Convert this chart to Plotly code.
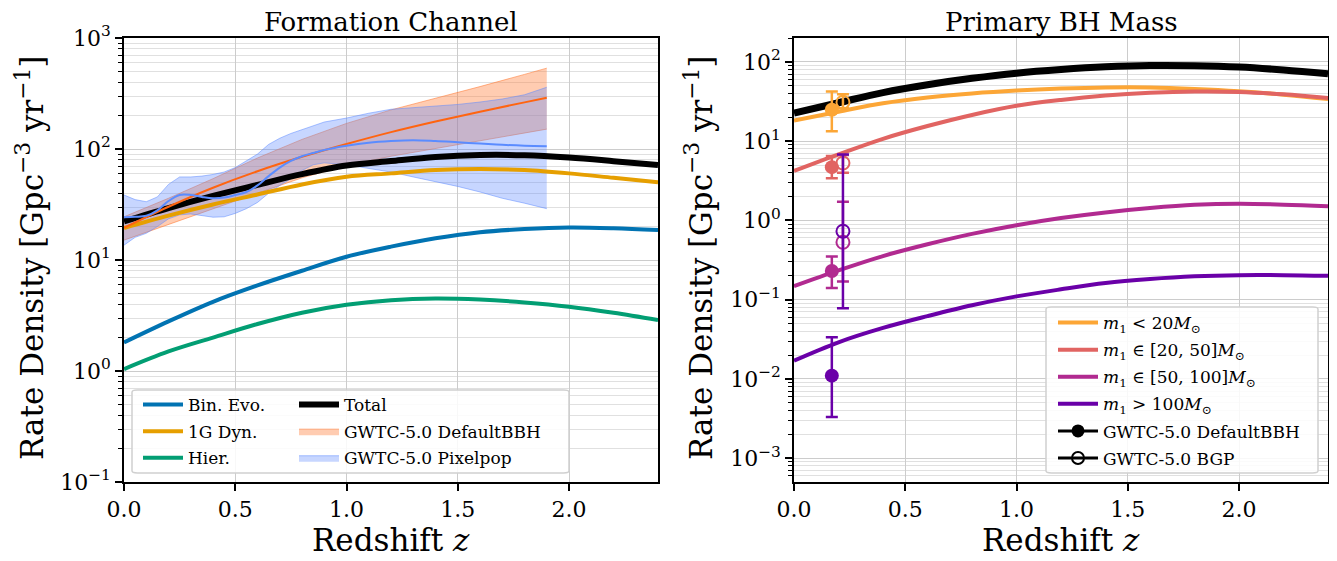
import plotly.graph_objects as go

# ---------------- data ----------------
# Left panel: formation channels
z_model = [0.0, 0.2, 0.4, 0.6, 0.8, 1.0, 1.2, 1.4, 1.6, 1.8, 2.0, 2.2, 2.4]
bin_evo = [1.81, 2.8, 4.2, 5.9, 8.0, 10.7, 13.2, 15.7, 17.8, 19.0, 19.6, 19.3, 18.6]
dyn_1g = [19.4, 25.1, 31.6, 38.9, 47.9, 56.2, 60.3, 64.6, 66.1, 64.6, 60.3, 55.0, 50.1]
hier = [1.04, 1.5, 2.0, 2.65, 3.35, 3.95, 4.35, 4.5, 4.4, 4.15, 3.8, 3.35, 2.88]
total_left = [22.3, 29.4, 37.8, 47.5, 59.3, 70.9, 77.9, 84.8, 88.3, 87.8, 83.7, 77.7, 71.6]

# GWTC-5.0 DefaultBBH rate vs z (median and 90% band)
z_default = [0.0, 0.2, 0.4, 0.6, 0.8, 1.0, 1.2, 1.4, 1.6, 1.8, 1.9]
default_med = [19.5, 30.2, 44.8, 63.1, 85.1, 111, 142, 177, 217, 263, 290]
default_up = [24.5, 36, 54, 83, 122, 170, 225, 285, 365, 470, 535]
default_lo = [15.1, 21, 29, 40, 55, 71, 86, 101, 118, 138, 151]

# GWTC-5.0 PixelPop rate vs z (median and band)
z_pixel = [0.0, 0.05, 0.1, 0.15, 0.2, 0.25, 0.3, 0.35, 0.4, 0.45, 0.5, 0.55, 0.6, 0.65,
           0.7, 0.75, 0.8, 0.85, 0.9, 1.0, 1.1, 1.2, 1.3, 1.4, 1.5, 1.6, 1.7, 1.8, 1.9]
pixel_med = [24.3, 24.5, 25, 28, 34, 38.5, 38.5, 37, 36, 36.5, 38.5, 41, 47, 57,
             68, 78, 86, 92, 98, 107, 114, 118, 120, 118, 115, 112, 109, 107, 106]
pixel_up = [38.5, 35, 33.5, 37, 48, 56, 56, 57, 59, 62, 68, 78, 90, 110,
            125, 138, 150, 162, 175, 190, 210, 228, 236, 241, 252, 265, 282, 308, 360]
pixel_lo = [13.6, 16, 17.4, 20, 23.5, 25.5, 26, 25, 24.3, 24.5, 26.3, 29, 33, 40,
            47, 54, 64, 72, 75, 72, 67, 62, 56, 51, 46, 41, 36, 32.5, 29]

# Right panel: primary BH mass bins
m_lt20 = [18.2, 23.5, 30, 35.5, 40, 43.5, 46, 47.5, 47.5, 45.5, 42.5, 38.5, 34]
m_20_50 = [4.2, 6.8, 10.7, 15.5, 21.4, 27.9, 33.1, 37.6, 40.7, 42.2, 41.7, 38.9, 34.9]
m_50_100 = [0.148, 0.234, 0.355, 0.5, 0.676, 0.87, 1.07, 1.26, 1.43, 1.57, 1.62, 1.58, 1.51]
m_gt100 = [0.017, 0.029, 0.044, 0.062, 0.085, 0.11, 0.135, 0.162, 0.182, 0.197, 0.204, 0.204, 0.2]
total_right = [22.6, 30.5, 41, 51.5, 62, 72, 80, 86.5, 90, 89.5, 86, 79, 70.6]

# Local-rate measurements per mass bin
bin_names = ["<20", "20-50", "50-100", ">100"]
z_point_default = 0.17
z_point_bgp = 0.22
pt_default_med = [24.9, 4.7, 0.23, 0.011]
pt_default_lo = [13.3, 3.4, 0.14, 0.0033]
pt_default_hi = [42.4, 6.5, 0.35, 0.0335]
pt_bgp_med = [31, 5.3, 0.53, 0.73]
pt_bgp_lo = [26, 4.0, 0.17, 0.078]
pt_bgp_hi = [39, 6.7, 1.72, 6.8]

mass_labels = [
    "<i>m</i><sub>1</sub> < 20<i>M</i><sub>⊙</sub>",
    "<i>m</i><sub>1</sub> ∈ [20, 50]<i>M</i><sub>⊙</sub>",
    "<i>m</i><sub>1</sub> ∈ [50, 100]<i>M</i><sub>⊙</sub>",
    "<i>m</i><sub>1</sub> > 100<i>M</i><sub>⊙</sub>",
]

# ---------------- styling ----------------
# the page adds an 8px body margin, so the figure is drawn 8px smaller and
# every reference pixel position is shifted by that offset
OFF = 8
W, H = 1337 - OFF, 561 - OFF
FONT = "DejaVu Serif"
C_BIN, C_DYN, C_HIER = "#0173B2", "#E69F00", "#029E73"
C_DEF_LINE, C_DEF_FILL, C_DEF_EDGE = "#FF6410", "rgba(255,120,50,0.38)", "rgba(255,120,50,0.55)"
C_PIX_LINE, C_PIX_FILL, C_PIX_EDGE = "#5B8CFF", "rgba(90,135,255,0.34)", "rgba(90,135,255,0.5)"
MASS_COLORS = ["#FCA636", "#E16462", "#B12A90", "#6A00A8"]

def px(x):
    return (x - OFF) / W

def py(y):
    return 1 - (y - OFF) / H

fig = go.Figure()

def band(z, lo, up, fill, edge, name, legend, group, rank):
    fig.add_trace(go.Scatter(x=z, y=lo, mode="lines", line=dict(color=edge, width=1),
                             showlegend=False, hoverinfo="skip", xaxis="x", yaxis="y",
                             legendgroup=group))
    fig.add_trace(go.Scatter(x=z, y=up, mode="lines", line=dict(color=edge, width=1),
                             fill="tonexty", fillcolor=fill, name=name, legend=legend,
                             legendgroup=group, legendrank=rank, xaxis="x", yaxis="y"))

# Left panel bands
band(z_default, default_lo, default_up, C_DEF_FILL, C_DEF_EDGE, "GWTC-5.0 DefaultBBH", "legend2", "g5", 2)
band(z_pixel, pixel_lo, pixel_up, C_PIX_FILL, C_PIX_EDGE, "GWTC-5.0 Pixelpop", "legend2", "g6", 3)

# Left panel model lines
for ys, col, name, grp in [(bin_evo, C_BIN, "Bin. Evo.", "g1"),
                           (dyn_1g, C_DYN, "1G Dyn.", "g2"),
                           (hier, C_HIER, "Hier.", "g3")]:
    fig.add_trace(go.Scatter(x=z_model, y=ys, mode="lines", name=name,
                             line=dict(color=col, width=4, shape="spline"),
                             legend="legend", legendgroup=grp, xaxis="x", yaxis="y"))
fig.add_trace(go.Scatter(x=z_model, y=total_left, mode="lines", name="Total",
                         line=dict(color="black", width=6, shape="spline"),
                         legend="legend2", legendgroup="g4", legendrank=1, xaxis="x", yaxis="y"))

# median lines of the measurements
fig.add_trace(go.Scatter(x=z_default, y=default_med, mode="lines", showlegend=False,
                         line=dict(color=C_DEF_LINE, width=2, shape="spline"), xaxis="x", yaxis="y"))
fig.add_trace(go.Scatter(x=z_pixel, y=pixel_med, mode="lines", showlegend=False,
                         line=dict(color=C_PIX_LINE, width=2, shape="spline"), xaxis="x", yaxis="y"))

# Right panel lines
fig.add_trace(go.Scatter(x=z_model, y=total_right, mode="lines", showlegend=False,
                         line=dict(color="black", width=7, shape="spline"), xaxis="x2", yaxis="y2"))
for i, ys in enumerate([m_lt20, m_20_50, m_50_100, m_gt100]):
    fig.add_trace(go.Scatter(x=z_model, y=ys, mode="lines", name=mass_labels[i],
                             line=dict(color=MASS_COLORS[i], width=4, shape="spline"),
                             legend="legend3", legendgroup="m%d" % i, legendrank=i + 1,
                             xaxis="x2", yaxis="y2"))

# Right panel error-bar points
for i in range(len(bin_names)):
    col = MASS_COLORS[i]
    fig.add_trace(go.Scatter(
        x=[z_point_default], y=[pt_default_med[i]], mode="markers", showlegend=False,
        marker=dict(color=col, size=14, symbol="circle"),
        error_y=dict(type="data", symmetric=False,
                     array=[pt_default_hi[i] - pt_default_med[i]],
                     arrayminus=[pt_default_med[i] - pt_default_lo[i]],
                     color=col, thickness=2.5, width=6),
        xaxis="x2", yaxis="y2"))
    fig.add_trace(go.Scatter(
        x=[z_point_bgp], y=[pt_bgp_med[i]], mode="markers", showlegend=False,
        marker=dict(color=col, size=13, symbol="circle-open", line=dict(width=2, color=col)),
        error_y=dict(type="data", symmetric=False,
                     array=[pt_bgp_hi[i] - pt_bgp_med[i]],
                     arrayminus=[pt_bgp_med[i] - pt_bgp_lo[i]],
                     color=col, thickness=2.5, width=6),
        xaxis="x2", yaxis="y2"))

# legend-only entries for the measurements
fig.add_trace(go.Scatter(x=[None], y=[None], mode="lines+markers", name="GWTC-5.0 DefaultBBH",
                         line=dict(color="black", width=3), marker=dict(color="black", size=13),
                         legend="legend3", legendgroup="p1", legendrank=5, xaxis="x2", yaxis="y2"))
fig.add_trace(go.Scatter(x=[None], y=[None], mode="lines+markers", name="GWTC-5.0 BGP",
                         line=dict(color="black", width=3),
                         marker=dict(color="black", size=12, symbol="circle-open", line=dict(width=2)),
                         legend="legend3", legendgroup="p2", legendrank=6, xaxis="x2", yaxis="y2"))

# ---------------- axes ----------------
minor_vals = [k * 10.0 ** e for e in range(-4, 4) for k in range(2, 10)]

def sup(e):
    return "10<sup>%s</sup>" % (str(e).replace("-", "−"))

ydom = [py(482), py(38)]
common_x = dict(range=[0, 2.4], tickvals=[0, 0.5, 1.0, 1.5, 2.0],
                ticktext=["0.0", "0.5", "1.0", "1.5", "2.0"], automargin=False,
                ticks="outside", ticklen=7, tickwidth=1.5, tickcolor="black",
                showline=True, mirror=True, linecolor="black", linewidth=1.5,
                showgrid=True, gridcolor="#cccccc", gridwidth=1, zeroline=False,
                tickfont=dict(family=FONT, size=22, color="black"))
common_y = dict(type="log", ticks="outside", ticklen=7, tickwidth=1.5, tickcolor="black",
                showline=True, mirror=True, linecolor="black", linewidth=1.5, automargin=False,
                showgrid=True, gridcolor="#cccccc", gridwidth=1.2, zeroline=False,
                tickfont=dict(family=FONT, size=22, color="black"),
                minor=dict(tickmode="array", tickvals=minor_vals, ticks="outside", ticklen=4,
                           tickwidth=1, tickcolor="black", showgrid=True,
                           gridcolor="#e0e0e0", gridwidth=1),
                domain=ydom)

left_exp = [-1, 0, 1, 2, 3]
right_exp = [-3, -2, -1, 0, 1, 2]

leg_common = dict(xanchor="left", yanchor="top", bgcolor="rgba(0,0,0,0)",
                  font=dict(family=FONT, size=17, color="black"),
                  tracegroupgap=1.5, itemwidth=40, traceorder="grouped")

fig.update_layout(
    width=W, height=H, margin=dict(l=0, r=0, t=0, b=0, autoexpand=False),
    paper_bgcolor="white", plot_bgcolor="white",
    font=dict(family=FONT, color="black"),
    xaxis=dict(common_x, domain=[px(124), px(658)], anchor="y"),
    yaxis=dict(common_y, range=[-1, 3], anchor="x",
               tickvals=[10.0 ** e for e in left_exp], ticktext=[sup(e) for e in left_exp]),
    xaxis2=dict(common_x, domain=[px(794), px(1328)], anchor="y2"),
    yaxis2=dict(common_y, range=[-3.3, 2.301], anchor="x2",
                tickvals=[10.0 ** e for e in right_exp], ticktext=[sup(e) for e in right_exp]),
    legend=dict(leg_common, x=px(138), y=py(387)),
    legend2=dict(leg_common, x=px(294), y=py(387)),
    legend3=dict(leg_common, x=px(1053), y=py(305), tracegroupgap=2),
    showlegend=True,
)

# legend frames (rounded, semi-transparent white)
def rounded_box(x0, y0, x1, y1, r=4):
    return (f"M {x0+r},{y0} L {x1-r},{y0} Q {x1},{y0} {x1},{y0+r} L {x1},{y1-r} "
            f"Q {x1},{y1} {x1-r},{y1} L {x0+r},{y1} Q {x0},{y1} {x0},{y1-r} "
            f"L {x0},{y0+r} Q {x0},{y0} {x0+r},{y0} Z")

for (x0, y0, x1, y1) in [(132, 390, 569, 473), (1046, 307, 1318, 473)]:
    fig.add_shape(type="path", xref="paper", yref="paper",
                  path=rounded_box(px(x0), py(y1), px(x1), py(y0), r=0.004),
                  fillcolor="rgba(255,255,255,0.85)", line=dict(color="#d0d0d0", width=1.5),
                  layer="above")

# titles
ann = []
for cx, t in [(391, "Formation Channel"), (1061, "Primary BH Mass")]:
    ann.append(dict(x=px(cx), y=py(22), xref="paper", yref="paper", text=t, showarrow=False,
                    xanchor="center", yanchor="middle", font=dict(family=FONT, size=26)))
for cx in [391, 1061]:
    ann.append(dict(x=px(cx), y=py(540), xref="paper", yref="paper", text="Redshift <i>z</i>",
                    showarrow=False, xanchor="center", yanchor="middle",
                    font=dict(family=FONT, size=31)))
for cx in [30, 699]:
    ann.append(dict(x=px(cx), y=py(258), xref="paper", yref="paper",
                    text="Rate Density [Gpc<sup>−3</sup> yr<sup>−1</sup>]", textangle=-90,
                    showarrow=False, xanchor="center", yanchor="middle",
                    font=dict(family=FONT, size=31)))
fig.update_layout(annotations=ann)

fig.write_html("out.html")
